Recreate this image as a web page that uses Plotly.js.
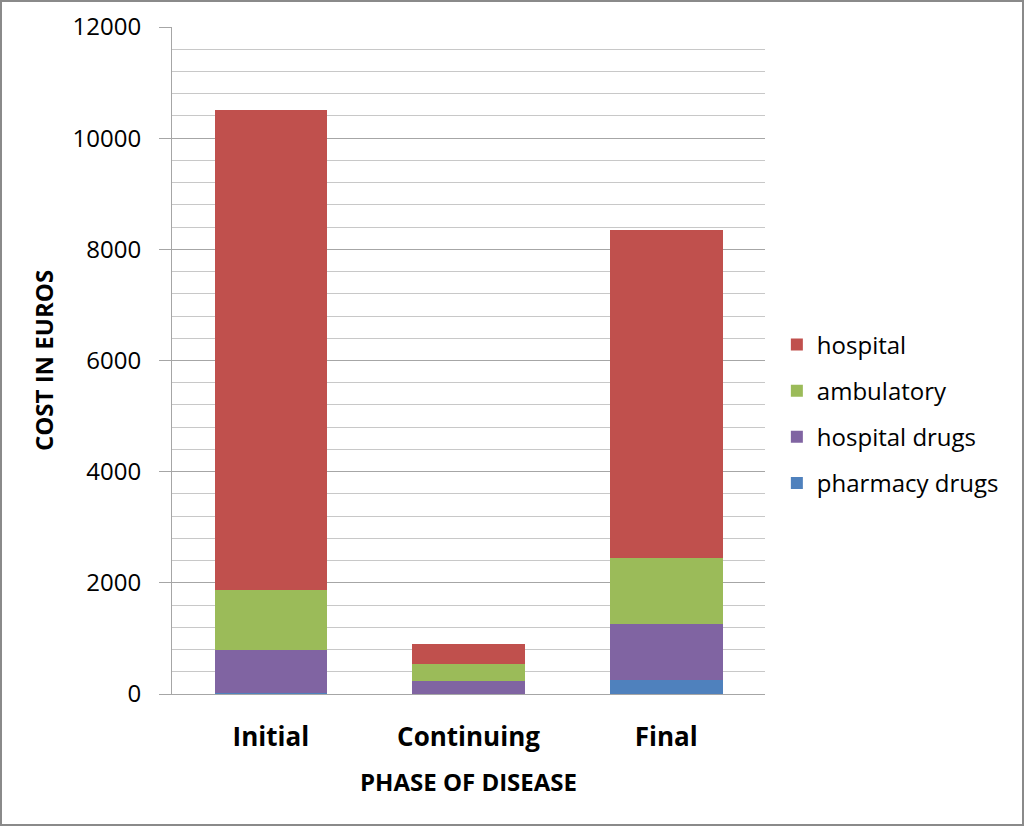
<!DOCTYPE html>
<html>
<head>
<meta charset="utf-8">
<script src="https://cdn.plot.ly/plotly-3.0.1.min.js"></script>
<style>
    html, body { margin: 0; padding: 0; background: #fff; }
    #frame {
        width: 1024px; height: 826px; box-sizing: border-box;
        border: 2px solid #8a8a8a; position: relative; overflow: hidden;
    }
    #chart { position: absolute; left: -2px; top: -2px; width: 1024px; height: 826px; }
</style>
</head>
<body>
<div id="frame"><div id="chart"></div></div>
<script>
// Phases of disease (x categories)
const phases = ['Initial', 'Continuing', 'Final'];

// Cost components in euros, stacked bottom to top
const pharmacyDrugs = [10, 5, 250];
const hospitalDrugs = [780, 220, 1010];
const ambulatory = [1090, 320, 1190];
const hospital = [8630, 360, 5900];

const COLORS = {
    hospital: '#C0504D',
    ambulatory: '#9BBB59',
    hospitalDrugs: '#8064A2',
    pharmacyDrugs: '#4F81BD',
};

const FONT = 'Open Sans, "Noto Sans", sans-serif';

function barTrace(name, values, color, rank) {
    return {
        type: 'bar',
        name: name,
        legendgroup: name,
        legendrank: rank,
        x: phases,
        y: values,
        marker: { color: color, line: { width: 0 } },
        hovertemplate: '<b>%{x}</b><br>' + name + ': %{y}<extra></extra>',
    };
}

const data = [
    barTrace('pharmacy drugs', pharmacyDrugs, COLORS.pharmacyDrugs, 4),
    barTrace('hospital drugs', hospitalDrugs, COLORS.hospitalDrugs, 3),
    barTrace('ambulatory', ambulatory, COLORS.ambulatory, 2),
    barTrace('hospital', hospital, COLORS.hospital, 1),
];

const layout = {
    width: 1024,
    height: 826,
    paper_bgcolor: '#ffffff',
    plot_bgcolor: '#ffffff',
    font: { family: FONT, color: '#000000', size: 24 },
    margin: { t: 27, r: 259, b: 132, l: 172 },
    barmode: 'stack',
    bargap: 0.43,
    showlegend: true,
    legend: {
        x: 1.02,
        xanchor: 'left',
        y: 0.42,
        yanchor: 'middle',
        traceorder: 'grouped',
        tracegroupgap: 12,
        font: { size: 24, color: '#000' },
        itemwidth: 30,
        bgcolor: 'rgba(0,0,0,0)',
    },
    xaxis: {
        type: 'category',
        showline: true,
        linecolor: '#a6a6a6',
        linewidth: 1,
        ticks: '',
        ticklabelstandoff: 20,
        tickfont: { size: 26, family: FONT, weight: 'bold' },
        title: {
            text: 'PHASE OF DISEASE',
            font: { size: 24, family: FONT, weight: 'bold' },
            standoff: 20,
        },
    },
    yaxis: {
        range: [0, 12000],
        dtick: 2000,
        tickformat: 'd',
        showline: true,
        linecolor: '#a6a6a6',
        linewidth: 1,
        ticks: 'outside',
        ticklen: 12,
        tickcolor: '#a6a6a6',
        ticklabelstandoff: 13,
        gridcolor: '#a6a6a6',
        gridwidth: 1,
        zeroline: false,
        tickfont: { size: 24 },
        minor: {
            dtick: 400,
            showgrid: true,
            gridcolor: '#c8c8c8',
            gridwidth: 1,
            ticks: '',
        },
        title: {
            text: 'COST IN EUROS',
            font: { size: 24, family: FONT, weight: 'bold' },
            standoff: 12,
        },
    },
};

Plotly.newPlot('chart', data, layout, { displayModeBar: false, responsive: false });
</script>
</body>
</html>
